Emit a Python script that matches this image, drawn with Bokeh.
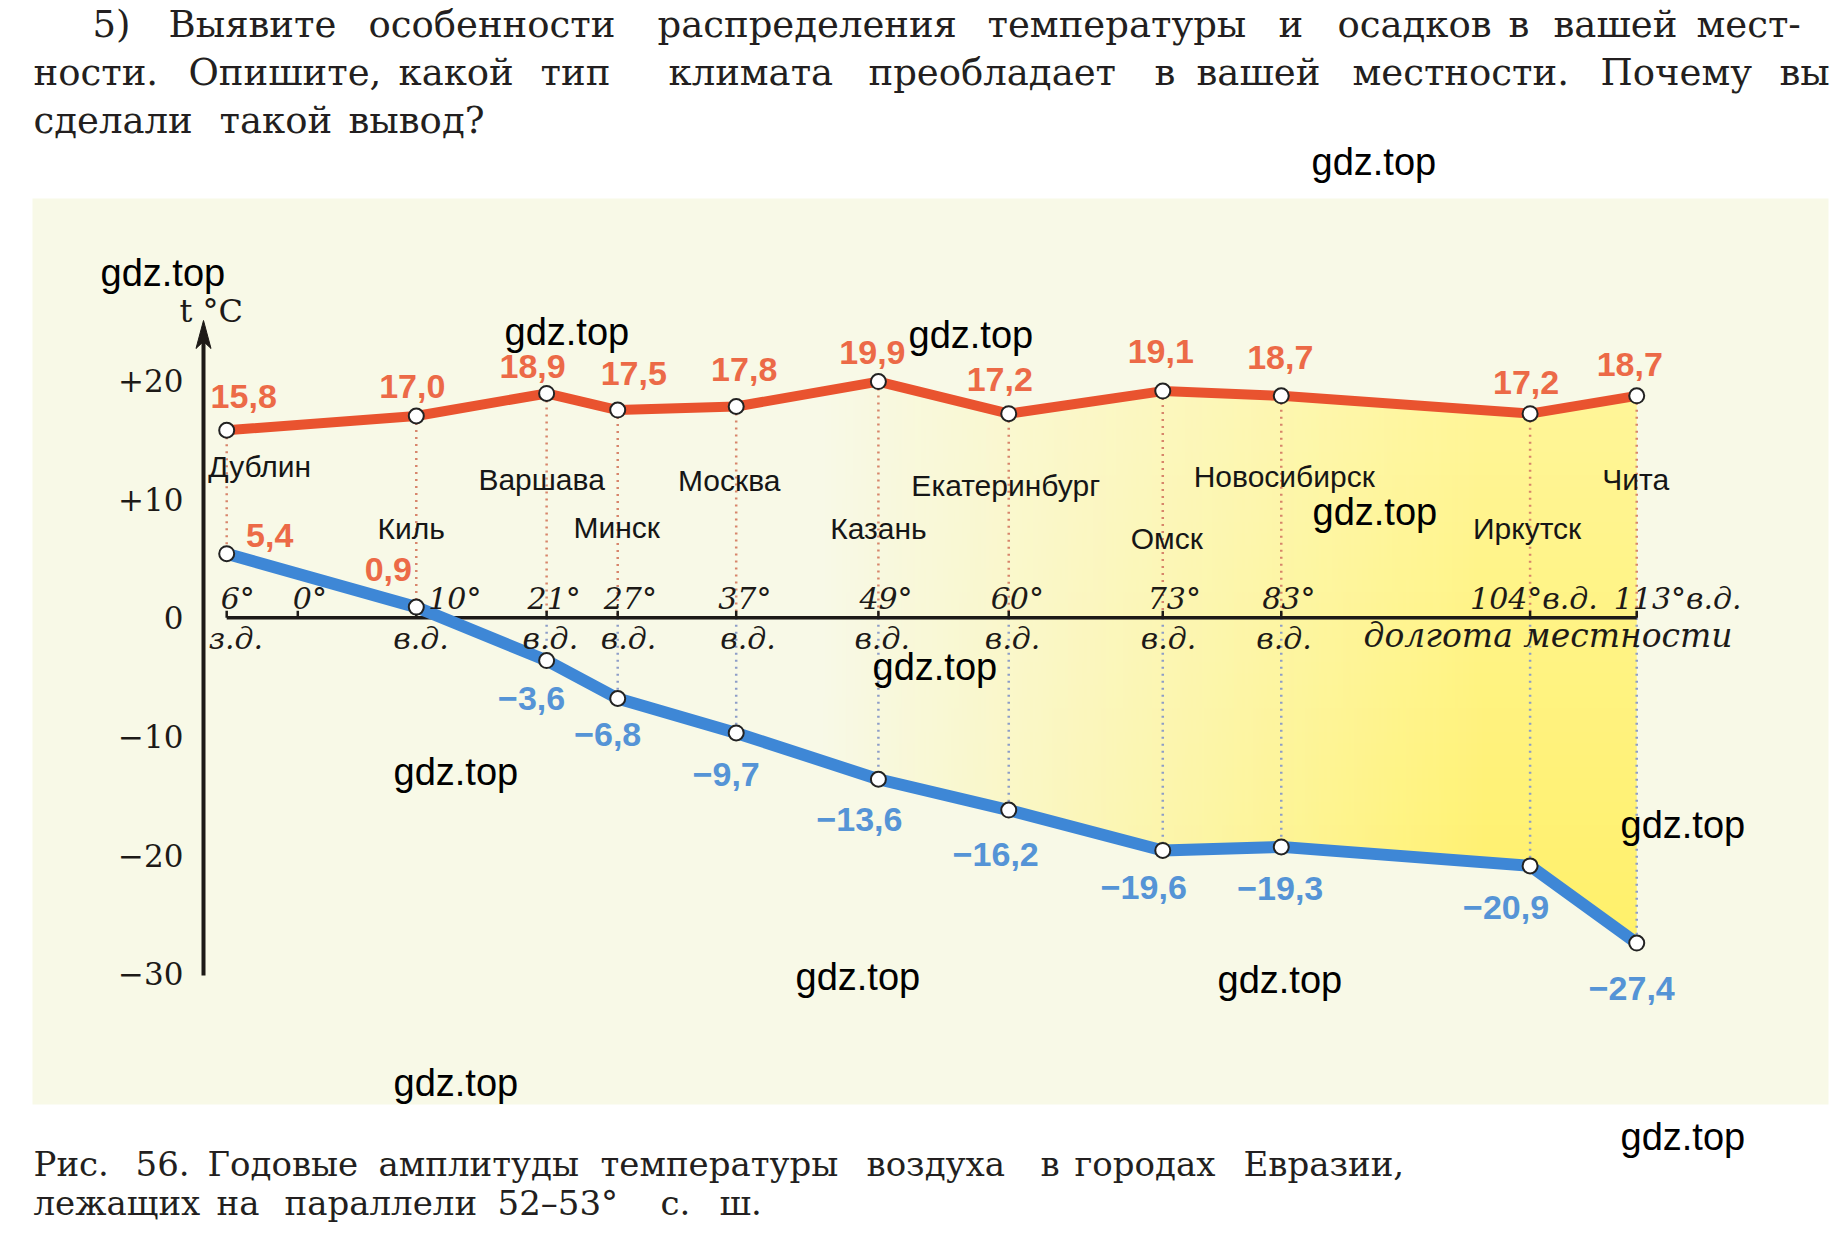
import numpy as np
from bokeh.plotting import figure
from bokeh.models import Range1d
from bokeh.core.properties import value
from bokeh.embed import file_html
from bokeh.resources import INLINE

# ---------------- data ----------------
cities = ["Дублин", "Киль", "Варшава", "Минск", "Москва", "Казань",
          "Екатеринбург", "Омск", "Новосибирск", "Иркутск", "Чита"]
longitude = [-6, 10, 21, 27, 37, 49, 60, 73, 83, 104, 113]
july_temp = [15.8, 17.0, 18.9, 17.5, 17.8, 19.9, 17.2, 19.1, 18.7, 17.2, 18.7]
january_temp = [5.4, 0.9, -3.6, -6.8, -9.7, -13.6, -16.2, -19.6, -19.3, -20.9, -27.4]

y_tick_values = [20, 10, 0, -10, -20, -30]
y_tick_labels = ["+20", "+10", "0", "\u221210", "\u221220", "\u221230"]

lon_tick_values = [-6, 0, 10, 21, 27, 37, 49, 60, 73, 83, 104, 113]
lon_top_labels = ["6°", "0°", "10°", "21°", "27°", "37°", "49°", "60°", "73°", "83°",
                  "104°в.д.", "113°в.д."]
lon_bottom_values = [-6, 10, 21, 27, 37, 49, 60, 73, 83]
lon_bottom_labels = ["з.д.", "в.д.", "в.д.", "в.д.", "в.д.", "в.д.", "в.д.", "в.д.", "в.д."]
axis_name = "долгота местности"
y_axis_name = "t °C"

question_lines = [
    ["5)", "Выявите", "особенности", "распределения", "температуры", "и", "осадков", "в", "вашей", "мест-"],
    ["ности.", "Опишите,", "какой", "тип", "климата", "преобладает", "в", "вашей", "местности.", "Почему", "вы"],
    ["сделали", "такой", "вывод?"],
]
caption_lines = [
    ["Рис.", "56.", "Годовые", "амплитуды", "температуры", "воздуха", "в", "городах", "Евразии,"],
    ["лежащих", "на", "параллели", "52–53°", "с.", "ш."],
]
watermark = "gdz.top"

# ---------------- layout (page pixels) ----------------
W, H = 1847, 1254
XS, YS = 11.849, 11.87          # px per degree of longitude / per °C
X0PX, Y0PX = 226.2, 617.3       # page px of longitude -6 and of 0 °C


def px2x(px):
    return -6 + (px - X0PX) / XS


def py2y(py):
    return (Y0PX - py) / YS


def ddx(px):
    return px / XS


def ddy(px):   # screen px downwards -> data
    return -px / YS


def base_y(base_px, fs):   # text drawn with 'middle' baseline, given the wanted alphabetic baseline
    return py2y(base_px - 0.35 * fs)


RED_LINE = "#E9532F"
RED_TEXT = "#EC6A47"
BLUE_LINE = "#3E87D6"
BLUE_TEXT = "#5594D6"
PANEL = "#F8F9E7"
YEL_TOP = (0xFF, 0xF6, 0xA0)
YEL_BOT = (0xFF, 0xF0, 0x66)
INK = "#1d1a17"

summer_dx = [17, -4, -14, 16, 8, -6, -9, -2, -1, -4, -7]
summer_dy = [-34, -30, -27, -37, -37, -29, -34, -40, -38, -31, -31]
winter_dx = [43, -28, -15, -10, -10, -19, -13, -19, -1, -24, -5]
winter_dy = [-18, -38, 38, 36, 42, 40, 44, 37, 42, 42, 45]
city_dx = [33, -5, -5, -1, -7, 0, -3, 4, 3, -3, -1]
city_py = [466, 528, 479, 527, 480, 528, 485, 538, 476, 528, 479]
top_lab_dx = [-6, -5, 12, -19, -14, -18, -19, -18, -15, -19, -60, -23]
bot_lab_dx = [-18, -23, -24, -17, -16, -24, -24, -22, -25]

question_x = [
    [92, 168, 368, 657, 987, 1278, 1337, 1508, 1553, 1696],
    [33, 188, 398, 540, 668, 868, 1154, 1196, 1352, 1600, 1779],
    [33, 219, 348],
]
question_base = [37, 85, 133]
caption_x = [
    [33, 135, 207, 378, 600, 866, 1040, 1074, 1243],
    [33, 216, 284, 497, 660, 719],
]
caption_base = [1175, 1214]
wm_left = [1311, 100, 504, 908, 1312, 872, 393, 1620, 795, 1217, 393, 1620]
wm_base = [175, 286, 345, 348, 525, 680, 785, 838, 990, 993, 1096, 1150]


def fmt(v):
    s = f"{abs(v):.1f}".replace(".", ",")
    return ("\u2212" + s) if v < 0 else s


p = figure(width=W, height=H, output_backend="svg", toolbar_location=None,
           x_range=Range1d(px2x(0), px2x(W)), y_range=Range1d(py2y(H), py2y(0)),
           min_border=0, x_axis_location=None, y_axis_location=None)
p.xgrid.grid_line_color = None
p.ygrid.grid_line_color = None
p.outline_line_color = None
p.background_fill_color = "white"
p.border_fill_color = "white"

# panel
p.quad(left=px2x(32), right=px2x(1828), top=py2y(198), bottom=py2y(1104),
       fill_color=PANEL, line_color=None)

# yellow amplitude fill: gradient image, masked outside the two curves
G0, G1 = 44.0, 100.0
x_end = longitude[-1]
img_top, img_bot = py2y(300), py2y(1000)
NC, NR = 300, 60
col_lon = np.linspace(G0, x_end, NC)
alpha = np.clip((col_lon - G0) / (G1 - G0), 0, 1)
row_t = np.linspace(0, 1, NR)[:, None]          # 0 = bottom row, 1 = top row
rgba = np.zeros((NR, NC, 4), dtype=np.uint8)
for k in range(3):
    rgba[:, :, k] = np.round(YEL_BOT[k] + (YEL_TOP[k] - YEL_BOT[k]) * row_t).astype(np.uint8)
rgba[:, :, 3] = np.round(alpha[None, :] * 255).astype(np.uint8)
img = rgba.view(dtype=np.uint32).reshape((NR, NC))
p.image_rgba(image=[img], x=G0, y=img_bot, dw=x_end - G0, dh=img_top - img_bot)
p.patch(x=longitude + [x_end + 1, x_end + 1, longitude[0]],
        y=july_temp + [july_temp[-1], img_top + 1, img_top + 1],
        fill_color=PANEL, line_color=None)
p.patch(x=longitude + [x_end + 1, x_end + 1, longitude[0]],
        y=january_temp + [january_temp[-1], img_bot - 1, img_bot - 1],
        fill_color=PANEL, line_color=None)

# dotted verticals
red_bottom = [max(j, 0) for j in january_temp]
p.segment(x0=longitude, y0=july_temp, x1=longitude, y1=red_bottom,
          line_color="#D7856B", line_width=2.5, line_dash="2 5")
neg_lon = [lo for lo, j in zip(longitude, january_temp) if j < 0]
neg_val = [j for j in january_temp if j < 0]
p.segment(x0=neg_lon, y0=[0] * len(neg_lon), x1=neg_lon, y1=neg_val,
          line_color="#8D9DC8", line_width=2.5, line_dash="2 5")

# x axis (longitude line)
p.segment(x0=[lon_tick_values[0]], y0=[0], x1=[lon_tick_values[-1]], y1=[0],
          line_color=INK, line_width=3.5)
p.segment(x0=lon_tick_values, y0=[0] * len(lon_tick_values), x1=lon_tick_values,
          y1=[ddy(-7)] * len(lon_tick_values), line_color=INK, line_width=2.5)

# y axis with arrow
ax = px2x(203)
p.segment(x0=[ax], y0=[py2y(975)], x1=[ax], y1=[py2y(338)], line_color=INK, line_width=4)
tip = py2y(320)
p.patch(x=[ax, ax + ddx(7.5), ax, ax - ddx(7.5)],
        y=[tip, tip + ddy(28), tip + ddy(21), tip + ddy(28)],
        fill_color=INK, line_color=INK, line_width=1)

# curves
p.line(longitude, july_temp, line_color=RED_LINE, line_width=10, line_join="round")
p.line(longitude, january_temp, line_color=BLUE_LINE, line_width=12, line_join="round")
p.scatter(longitude, july_temp, size=15, fill_color="white", line_color="#222222", line_width=2)
p.scatter(longitude, january_temp, size=15, fill_color="white", line_color="#222222", line_width=2)

# y tick labels
p.text(x=[ax + ddx(-20)] * len(y_tick_values), y=y_tick_values, text=y_tick_labels,
       text_font=value("DejaVu Serif"), text_font_size="31px", text_color=INK,
       text_align="right", text_baseline="middle")
p.text(x=[px2x(179)], y=[base_y(322, 32)], text=[y_axis_name],
       text_font=value("DejaVu Serif"), text_font_size="32px", text_color=INK,
       text_align="left", text_baseline="middle")

# longitude labels
p.text(x=[lo + ddx(d) for lo, d in zip(lon_tick_values, top_lab_dx)],
       y=[base_y(608, 30)] * len(lon_tick_values), text=lon_top_labels,
       text_font=value("DejaVu Serif"), text_font_style="italic", text_font_size="30px",
       text_color=INK, text_align="left", text_baseline="middle")
p.text(x=[lo + ddx(d) for lo, d in zip(lon_bottom_values, bot_lab_dx)],
       y=[base_y(648, 30)] * len(lon_bottom_values), text=lon_bottom_labels,
       text_font=value("DejaVu Serif"), text_font_style="italic", text_font_size="30px",
       text_color=INK, text_align="left", text_baseline="middle")
p.text(x=[px2x(1363)], y=[base_y(647, 33)], text=[axis_name],
       text_font=value("DejaVu Serif"), text_font_style="italic", text_font_size="33px",
       text_color=INK, text_align="left", text_baseline="middle")

# city names
p.text(x=[lo + ddx(d) for lo, d in zip(longitude, city_dx)], y=[py2y(v) for v in city_py],
       text=cities, text_font=value("Liberation Sans"), text_font_size="30px",
       text_color="#161616", text_align="center", text_baseline="middle")

# value labels
p.text(x=[lo + ddx(d) for lo, d in zip(longitude, summer_dx)],
       y=[t + ddy(d) for t, d in zip(july_temp, summer_dy)],
       text=[fmt(v) for v in july_temp], text_font=value("Liberation Sans"),
       text_font_style="bold", text_font_size="34px", text_color=RED_TEXT,
       text_align="center", text_baseline="middle")
p.text(x=[lo + ddx(d) for lo, d in zip(longitude, winter_dx)],
       y=[t + ddy(d) for t, d in zip(january_temp, winter_dy)],
       text=[fmt(v) for v in january_temp], text_font=value("Liberation Sans"),
       text_font_style="bold", text_font_size="34px",
       text_color=[RED_TEXT if v > 0 else BLUE_TEXT for v in january_temp],
       text_align="center", text_baseline="middle")

# question text
QFS = 37
for words, xs, base in zip(question_lines, question_x, question_base):
    p.text(x=[px2x(v) for v in xs], y=[base_y(base, QFS)] * len(words), text=words,
           text_font=value("DejaVu Serif"), text_font_size=f"{QFS}px", text_color="#231f20",
           text_align="left", text_baseline="middle")

# caption
CFS = 34
for words, xs, base in zip(caption_lines, caption_x, caption_base):
    p.text(x=[px2x(v) for v in xs], y=[base_y(base, CFS)] * len(words), text=words,
           text_font=value("DejaVu Serif"), text_font_size=f"{CFS}px", text_color="#231f20",
           text_align="left", text_baseline="middle")

# watermarks
p.text(x=[px2x(v) for v in wm_left], y=[base_y(v, 38) for v in wm_base],
       text=[watermark] * len(wm_left),
       text_font=value("Liberation Sans"), text_font_size="38px", text_color="black",
       text_align="left", text_baseline="middle")

open("out.html", "w", encoding="utf-8").write(file_html(p, INLINE))
